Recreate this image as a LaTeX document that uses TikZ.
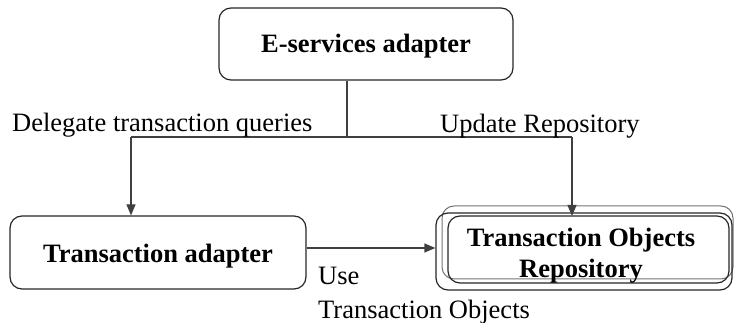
\documentclass[tikz,border=0pt]{standalone}
\usepackage{fontspec}
\setmainfont{Liberation Serif}
\usetikzlibrary{arrows.meta,calc}

\tikzset{
  box/.style={draw=black!85, line width=1.2pt, rounded corners=12pt, inner sep=0pt},
  frame/.style={draw=black!85, line width=1.2pt, rounded corners=12pt},
  thinframe/.style={draw=black!55, line width=1pt, rounded corners=12pt},
  wire/.style={draw=black!75, line width=1.2pt},
  arr/.style={wire, -{Triangle[length=11pt,width=9pt]}},
  title/.style={font=\bfseries\fontsize{26.5}{30}\selectfont, inner sep=0pt},
  lbl/.style={font=\fontsize{26.5}{30}\selectfont, inner sep=0pt, anchor=base west},
}

\begin{document}
\begin{tikzpicture}[x=1pt, y=-1pt]
  \useasboundingbox (0,0) rectangle (734,323);

  % components
  \node[box, minimum width=294pt, minimum height=72pt] (eserv) at (366,44) {};
  \node[title, anchor=base] (eservtxt) at (366,53) {E-services adapter};

  \node[box, minimum width=296pt, minimum height=73pt] (tadapt) at (158,252.5) {};
  \node[title, anchor=base] (tadapttxt) at (158,263) {Transaction adapter};

  % repository: stacked frames
  \draw[thinframe] (442,206) rectangle (733,279);
  \node[box, minimum width=296pt, minimum height=77pt] (repo) at (584,251.5) {};
  \draw[frame] (448,216) rectangle (729,283);
  \node[title, anchor=base] (repotxt1) at (581,247) {Transaction Objects};
  \node[title, anchor=base] (repotxt2) at (581,278) {Repository};

  % connectors
  \coordinate (j)  at (347,137);
  \coordinate (jl) at (131,137);
  \coordinate (jr) at (572,137);
  \draw[wire] (j |- eserv.south) -- (j);
  \draw[wire] (jl) -- (jr);
  \draw[arr] (jl) -- (jl |- tadapt.north);
  \draw[arr] (jr) -- (jr |- 0,216);
  \draw[arr] (tadapt.east |- 0,248) -- (repo.west |- 0,248);

  % labels
  \node[lbl] (dlg) at (12,132) {Delegate transaction queries};
  \node[lbl] (upd) at (440,133) {Update Repository};
  \node[lbl] (use1) at (318,285) {Use};
  \node[lbl] (use2) at (318,318) {Transaction Objects};
\end{tikzpicture}
\end{document}
